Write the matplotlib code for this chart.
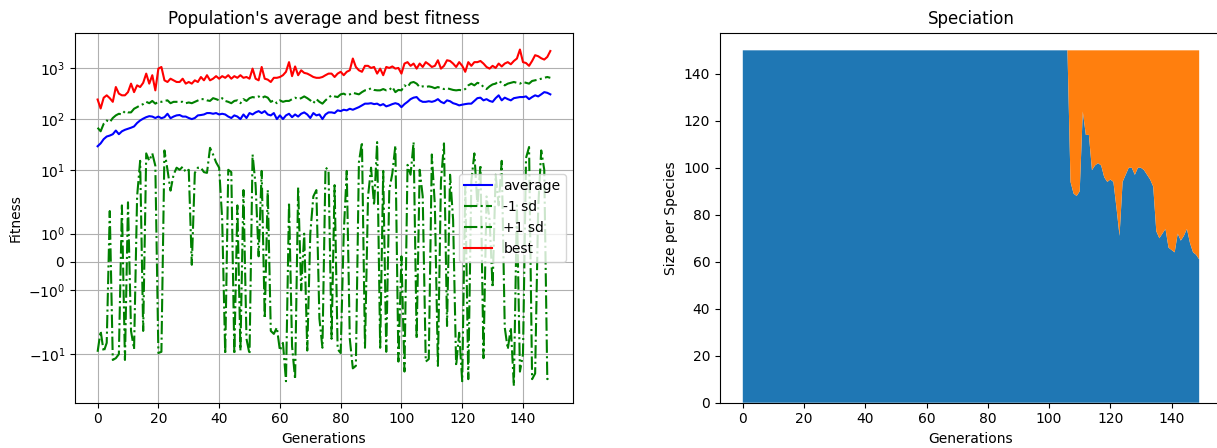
import numpy as np
import matplotlib
matplotlib.use('Agg')
import matplotlib.pyplot as plt
import matplotlib.ticker as ticker

# Fitness per generation
generations = list(range(150))

average = [
    29, 33, 40, 45, 47, 50, 59, 50, 57, 61,
    64, 67, 71, 83, 93, 101, 108, 113, 111, 104,
    111, 103, 108, 126, 103, 111, 117, 119, 111, 111,
    104, 99, 104, 117, 119, 122, 130, 130, 126, 130,
    122, 126, 122, 111, 104, 117, 111, 99, 122, 104,
    130, 122, 134, 142, 130, 142, 122, 117, 130, 99,
    117, 99, 117, 126, 108, 122, 111, 126, 134, 122,
    104, 130, 117, 122, 99, 122, 134, 134, 130, 147,
    142, 151, 147, 158, 151, 160, 170, 184, 199, 199,
    203, 195, 199, 184, 195, 176, 184, 195, 203, 195,
    170, 195, 216, 244, 261, 268, 231, 216, 216, 222,
    216, 225, 244, 216, 203, 231, 222, 203, 195, 184,
    190, 195, 199, 199, 225, 255, 261, 231, 244, 225,
    216, 255, 290, 231, 261, 244, 231, 255, 261, 268,
    268, 276, 244, 268, 290, 276, 303, 335, 325, 303,
]

minus_sd = [
    -9, -3.5, -9, -6, 1.8, -13, -12, -10, 2, -13,
    2.3, -3.5, -8, 3, 15, -3.5, 21, 15, 21, 12,
    -9.5, -9, 24, 10, 3.9, 8, 11, 10, 11.5, 9,
    10, -0.1, 8.7, 11, 11, 9, 8.7, 27, 20, 14,
    11, 1.5, -10, 10, 9, -10, 2, -8.5, 4, -5,
    -10, 20, 5, 0.2, 9.5, -2, 4, -3.5, -4, -3,
    -8.5, -6, -34, 2.3, -7, -31, 4.5, -1, 1, -8.5,
    1, 3, 4, -2, -7.5, 11, 10, -5, 5, -8,
    -9.5, 1, 9.5, -5, -19, -17, 14, 35, -7.5, 3,
    11, 2, 35, -7.5, 9.5, -9, 4, 8.5, 30, -14,
    0.2, -22, 12.5, 8, 35, -5, 10, 3, -14, -12.5,
    20, 2, -17, 6, 33, -2.8, 8, 1.5, -17, -3.8,
    -34, 5, -31, 6, 21, 2, 12.5, -12, 3, 1.5,
    -0.9, 8, 2, 15, -3, -8, -3, -42, 2, -22,
    -10, 17, 28, -31, -24, 1.9, 24, 10, -31, -27,
]

plus_sd = [
    67, 57, 80, 93, 86, 104, 117, 126, 122, 142,
    134, 134, 158, 170, 184, 195, 216, 203, 225, 199,
    216, 216, 225, 231, 203, 216, 216, 216, 216, 203,
    210, 203, 216, 231, 244, 244, 231, 225, 255, 244,
    231, 255, 225, 216, 203, 225, 231, 203, 244, 225,
    255, 268, 261, 276, 255, 276, 261, 216, 231, 203,
    231, 216, 225, 225, 244, 261, 244, 255, 276, 255,
    231, 203, 244, 216, 199, 231, 261, 290, 276, 268,
    303, 313, 290, 303, 325, 313, 303, 335, 363, 370,
    400, 370, 363, 363, 385, 363, 370, 422, 335, 370,
    363, 455, 422, 510, 530, 492, 422, 435, 422, 435,
    422, 400, 422, 400, 385, 400, 385, 370, 363, 370,
    363, 385, 455, 492, 455, 510, 492, 422, 385, 435,
    475, 492, 555, 510, 455, 492, 510, 530, 510, 492,
    530, 510, 492, 555, 571, 590, 615, 640, 664, 640,
]

best = [
    240, 160, 260, 290, 255, 216, 422, 313, 290, 290,
    335, 492, 335, 455, 422, 510, 774, 492, 720, 363,
    970, 1045, 571, 530, 615, 571, 530, 530, 615, 492,
    530, 492, 571, 530, 664, 571, 720, 571, 615, 690,
    615, 690, 640, 720, 615, 690, 640, 720, 640, 664,
    615, 970, 615, 571, 1045, 615, 590, 530, 640, 640,
    664, 720, 840, 1300, 690, 1070, 720, 899, 800, 774,
    720, 664, 640, 640, 664, 720, 774, 774, 664, 774,
    840, 720, 840, 899, 1530, 1045, 899, 840, 1100, 1100,
    1000, 1045, 774, 970, 720, 1045, 1000, 1070, 970, 1000,
    774, 1219, 1300, 1100, 1219, 970, 1219, 1045, 1300, 1180,
    1045, 1100, 1416, 970, 1100, 1416, 1370, 1219, 1045, 1300,
    1100, 840, 1300, 1100, 1300, 1300, 1370, 1219, 1045, 970,
    1100, 1000, 1219, 1070, 1219, 1300, 1180, 1370, 1530, 2300,
    1300, 1250, 1100, 1370, 1780, 1700, 1550, 1460, 1644, 2150,
]

# Species sizes per generation (second species appears at gen 107)
species_1 = [150] * 107 + [
    94, 89, 88, 90, 124, 114, 114, 99, 101, 102,
    101, 96, 94, 95, 94, 83, 71, 94, 97, 100,
    100, 97, 100, 100, 99, 97, 95, 92, 73, 70,
    72, 74, 66, 65, 64, 72, 69, 71, 74, 68,
    64, 63, 61,
]
species_2 = [0] * 107 + [
    56, 61, 62, 60, 26, 36, 36, 51, 49, 48,
    49, 54, 56, 55, 56, 67, 79, 56, 53, 50,
    50, 53, 50, 50, 51, 53, 55, 58, 77, 80,
    78, 76, 84, 85, 86, 78, 81, 79, 76, 82,
    86, 87, 89,
]

fig = plt.figure(figsize=(12.17, 4.48), dpi=100)

# Left: fitness on a symlog axis
ax1 = fig.add_axes([0.0616, 0.1011, 0.4092, 0.8259])
ax1.plot(generations, average, 'b-', label='average')
ax1.plot(generations, minus_sd, 'g-.', label='-1 sd')
ax1.plot(generations, plus_sd, 'g-.', label='+1 sd')
ax1.plot(generations, best, 'r-', label='best')
ax1.set_yscale('symlog')
ax1.set_yticks([-10, -1, 0, 1, 10, 100, 1000])
ax1.yaxis.set_minor_locator(ticker.NullLocator())
ax1.set_title("Population's average and best fitness")
ax1.set_xlabel('Generations')
ax1.set_ylabel('Fitness')
ax1.grid()
ax1.legend(loc='center right')

# Right: speciation stackplot, right spine falls just outside the crop
ax2 = fig.add_axes([0.5916, 0.1011, 0.4125, 0.8259])
ax2.stackplot(generations, species_1, species_2)
ax2.set_title('Speciation')
ax2.set_xlabel('Generations')
ax2.set_ylabel('Size per Species')

fig.savefig('out.png', dpi=100)
